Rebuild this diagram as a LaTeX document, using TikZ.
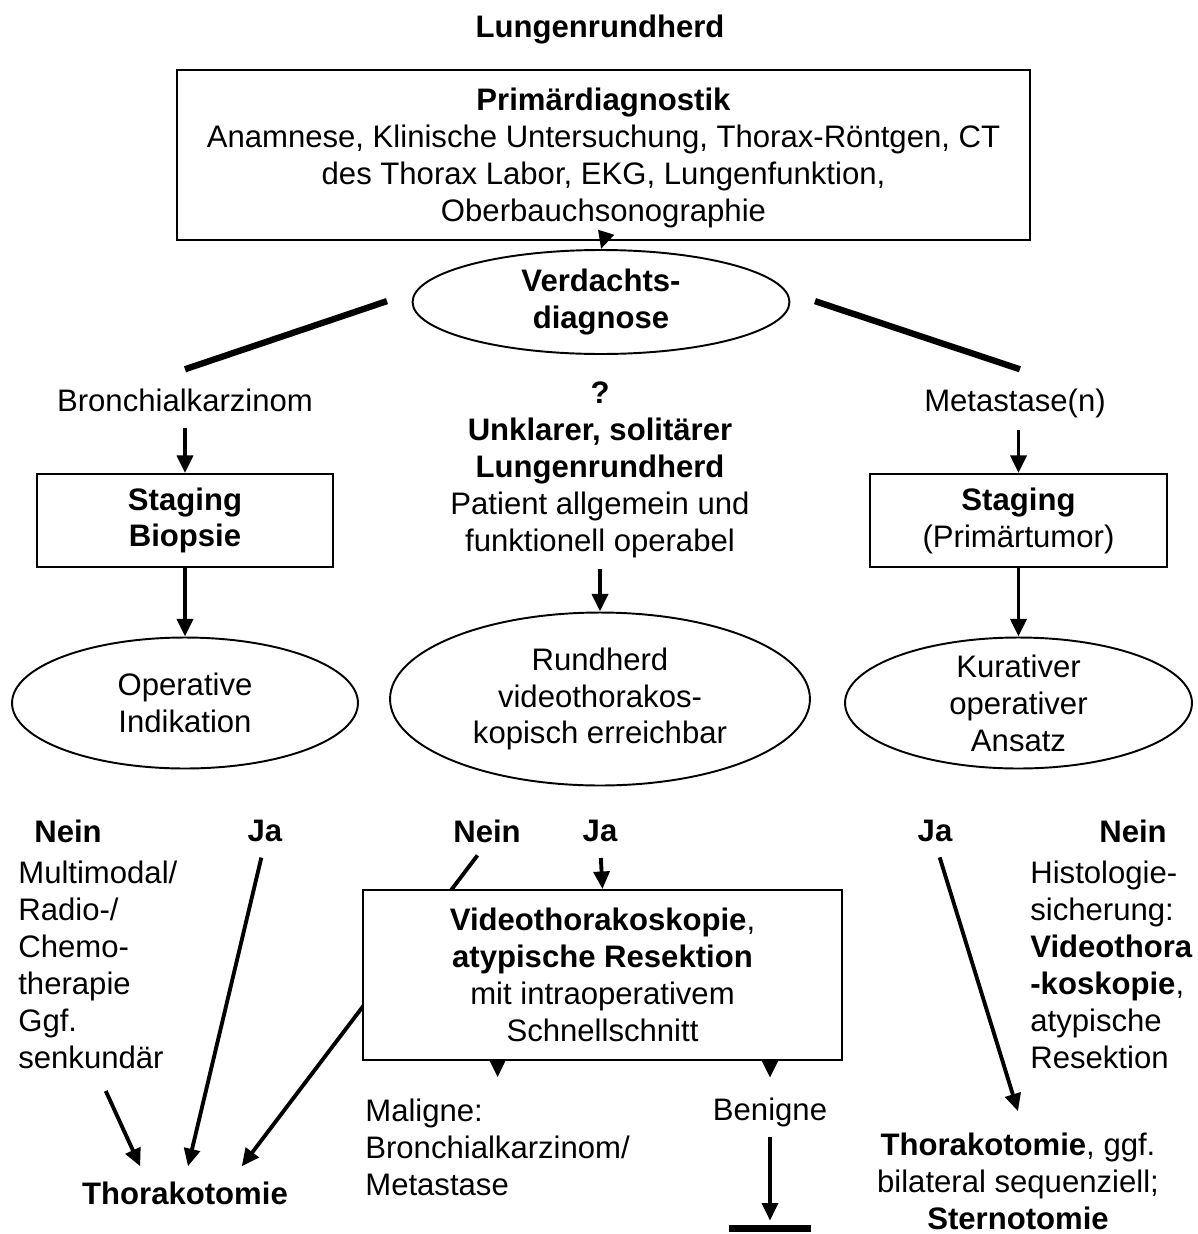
\documentclass[tikz,border=0pt]{standalone}
\usepackage{fontspec}
\setmainfont{Liberation Sans}
\usetikzlibrary{shapes.geometric,arrows.meta}
\newcommand{\schrift}{\fontsize{17.7}{21}\selectfont}

\begin{document}
\begin{tikzpicture}[x=0.02cm,y=-0.02cm,font=\schrift,
	txt/.style={align=center,inner sep=0pt},
	fett/.style={txt,font=\schrift\bfseries},
	kasten/.style={draw,line width=1.1pt,fill=white,align=center,inner sep=0pt},
	oval/.style={draw,ellipse,line width=1.1pt,align=center,inner xsep=0pt,inner ysep=-10pt},
	pfeil/.style={line width=2.2pt,-{Triangle[length=10pt,width=9pt]}},
	ast/.style={line width=3.6pt}]
	\useasboundingbox (0,0) rectangle (1197,1234);
	
	\node[fett] (titel) at (600,30) {Lungenrundherd};
	\node[kasten,minimum width=17.06cm,minimum height=3.4cm] (primaer) at (603.5,155) {};
	\node[txt] (primtext) at (603.5,158)
	{\textbf{Primärdiagnostik}\\Anamnese, Klinische Untersuchung, Thorax-Röntgen, CT\\
		des Thorax Labor, EKG, Lungenfunktion,\\Oberbauchsonographie};
	\node[oval,font=\schrift\bfseries,minimum width=7.54cm,minimum height=2.08cm] (verdacht) at (601,302)
	{Verdachts-\\diagnose};
	\draw[pfeil] (primaer.south) -- (verdacht.north);
	
	% drei Zweige
	\node[txt] (bronch) at (185,400) {Bronchialkarzinom};
	\node[txt] (metast) at (1015,403) {Metastase(n)};
	\node[txt] (unklar) at (600,470) {\textbf{?}\\\textbf{Unklarer, solitärer}\\\textbf{Lungenrundherd}\\
		Patient allgemein und\\funktionell operabel};
	\draw[ast] ([xshift=-14pt,yshift=0.5pt]verdacht.west) -- ([yshift=10.8pt]bronch.north);
	\draw[ast] ([xshift=14pt,yshift=0.5pt]verdacht.east) -- ([xshift=2.8pt,yshift=10.8pt]bronch.north -| metast.north);
	
	\node[kasten,font=\schrift\bfseries,minimum width=5.92cm,minimum height=1.86cm] (stagL) at (185,520.5)
	{Staging\\Biopsie};
	\node[kasten,minimum width=5.94cm,minimum height=1.86cm] (stagR) at (1018.5,520.5)
	{\textbf{Staging}\\(Primärtumor)};
	\node[oval,minimum width=6.92cm,minimum height=2.62cm] (opL) at (185,703) {Operative\\Indikation};
	\node[oval,minimum width=8.4cm,minimum height=3.46cm] (rund) at (600,699)
	{Rundherd\\videothorakos-\\kopisch erreichbar};
	\node[oval,minimum width=6.94cm,minimum height=2.62cm] (kurR) at (1018.5,703)
	{Kurativer\\operativer\\Ansatz};
	\draw[pfeil,shorten <=9pt] (bronch.south) -- (stagL.north);
	\draw[pfeil,shorten <=7pt] (metast.south -| stagR.north) -- (stagR.north);
	\draw[pfeil] (stagL.south) -- (opL.north);
	\draw[pfeil] (stagR.south) -- (kurR.north);
	\draw[pfeil,shorten <=6pt] (unklar.south) -- (rund.north);
	
	% Ja / Nein
	\foreach \nm/\xx/\wort in {neinL/68/Nein,jaL/265/Ja,neinM/487/Nein,jaM/600/Ja,jaR/935/Ja,neinR/1133/Nein}
	{\node[fett] (\nm) at (\xx,831) {\wort};}
	\node[txt,align=left,anchor=west] (multi) at (18,965)
	{Multimodal/\\Radio-/\\Chemo-\\therapie\\Ggf.\\senkundär};
	\node[fett] (thoraL) at (185,1193) {Thorakotomie};
	\draw[pfeil] ([xshift=4.5pt,yshift=-12.5pt]multi.south) -- ([xshift=-25.5pt,yshift=8.5pt]thoraL.north);
	\draw[pfeil,shorten <=9pt] (jaL.south) -- ([xshift=1.7pt,yshift=8.5pt]thoraL.north);
	\draw[pfeil,shorten <=9pt] (neinM.south) -- ([xshift=32.3pt,yshift=8.5pt]thoraL.north);
	% Kasten liegt ueber dem Nein-Pfeil
	\node[kasten,minimum width=9.58cm,minimum height=3.4cm] (video) at (602.5,975)
	{\textbf{Videothorakoskopie},\\\textbf{atypische Resektion}\\mit intraoperativem\\Schnellschnitt};
	\draw[pfeil,shorten <=9pt] (jaM.south) -- (video.north);
	\node[txt,align=left,anchor=west] (maligne) at (365,1147) {Maligne:\\Bronchialkarzinom/\\Metastase};
	\node[txt] (benigne) at (770,1112) {Benigne};
	\node[fill,minimum width=1.64cm,minimum height=0.14cm,inner sep=0pt] (ende) at (770,1228) {};
	\draw[pfeil,shorten >=12pt] (video.south -| maligne.north) -- (maligne.north);
	\draw[pfeil,shorten >=11pt] (video.south -| benigne.north) -- (benigne.north);
	\draw[pfeil,shorten <=5.7pt,shorten >=2pt] (benigne.south) -- (ende.north);
	\node[txt,align=left,anchor=west] (histo) at (1030,965)
	{Histologie-\\sicherung:\\\textbf{Videothora}\\\textbf{-koskopie},\\atypische\\Resektion};
	\node[txt] (thoraR) at (1018,1181) {\textbf{Thorakotomie}, ggf.\\bilateral sequenziell;\\\textbf{Sternotomie}};
	\draw[pfeil,shorten <=9pt] (jaR.south) -- ([yshift=12pt]thoraR.north);
\end{tikzpicture}
\end{document}
